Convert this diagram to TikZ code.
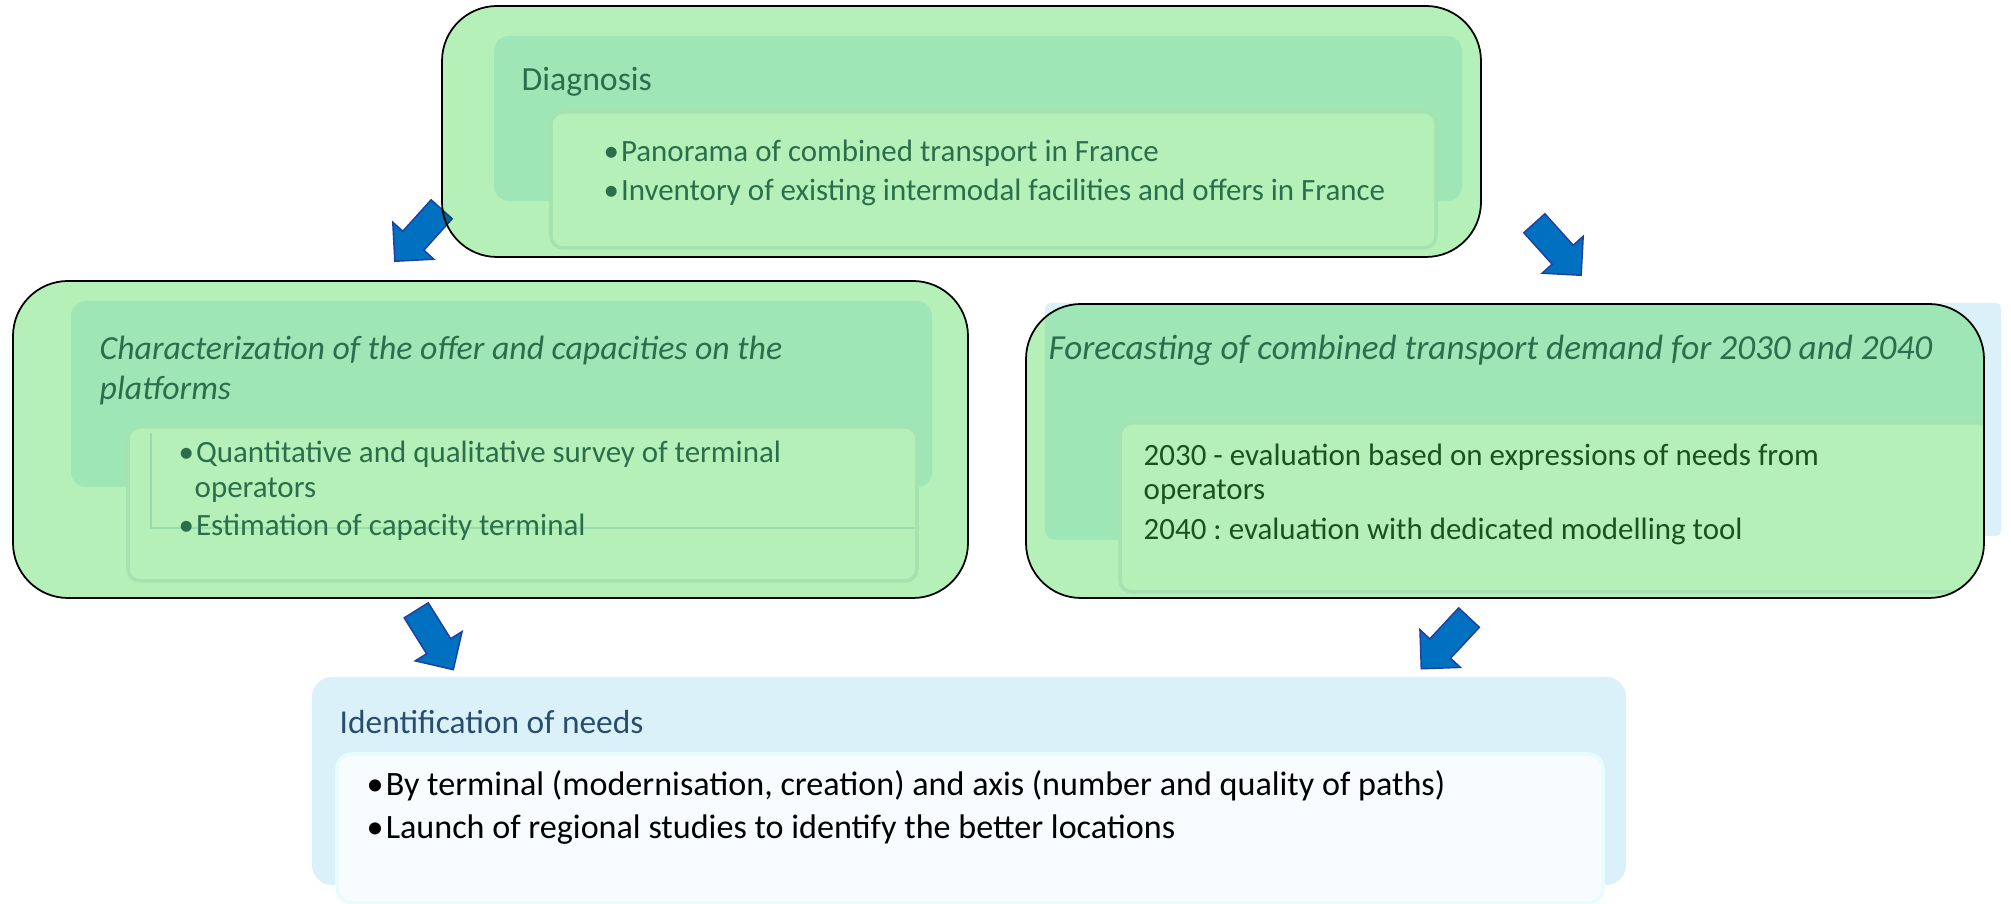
\documentclass[tikz,border=0pt]{standalone}
\usepackage{fontspec}
\setmainfont{Carlito}
\usetikzlibrary{shapes.arrows}
\definecolor{boxgreen}{HTML}{B5F0B8}
\definecolor{bandgreen}{HTML}{9FE6B6}
\definecolor{inneredge}{HTML}{A4E3B0}
\definecolor{textgreen}{HTML}{2B6E4B}
\definecolor{darkgreen}{HTML}{1B5220}
\definecolor{paleblue}{HTML}{DAF1FA}
\definecolor{whiteblue}{HTML}{F8FCFE}
\definecolor{titleblue}{HTML}{2A4D6E}
\definecolor{arrowfill}{HTML}{0070C0}
\definecolor{arrowedge}{HTML}{1F3F9F}
\tikzset{outerbox/.style = {fill=boxgreen, draw=black, line width=0.5pt, rounded corners=0.55cm}}
\tikzset{bandbox/.style = {fill=bandgreen, rounded corners=0.15cm}}
\tikzset{innerbox/.style = {fill=boxgreen, draw=inneredge, line width=1pt, rounded corners=0.12cm}}
\tikzset{blockarrow/.style = {single arrow, fill=arrowfill, draw=arrowedge, line width=0.4pt,
                              minimum height=0.7cm, single arrow head extend=0.135cm, inner sep=0.135cm}}
\tikzset{txt/.style = {anchor=base west, inner sep=0, text=textgreen, font=\fontsize{8.8}{10}\selectfont}}
\tikzset{headtxt/.style = {txt, font=\fontsize{9.6}{11}\selectfont}}
\tikzset{slanttxt/.style = {txt, font=\fontsize{9.6}{11}\itshape}}
\newcommand{\bul}{\makebox[0.56em][l]{\textbullet}}
\frenchspacing

\begin{document}
\begin{tikzpicture}[x=0.01cm, y=-0.01cm]
      \useasboundingbox (0,0) rectangle (2011,904);

      \node [blockarrow, rotate=-132] (arrowdiag) at (423,230) {};

      \begin{scope}[blend mode=multiply]
        \draw [outerbox] (442,6) rectangle (1481,257);
      \end{scope}
      \fill [bandbox] (494,36) rectangle (1462,201);
      \draw [innerbox] (551,112) rectangle (1436,248);
      \node [headtxt] (diag) at (521,91) {Diagnosis};
      \node [txt] (diag1) at (603,162) {\bul Panorama of combined transport in France};
      \node [txt] (diag2) at (603,201) {\bul Inventory of existing intermodal facilities and offers in France};

      \node [blockarrow, rotate=-48] (arrowfore) at (1553,244) {};

      % offer and capacities
      \draw [outerbox] (13,281) rectangle (968,598);
      \fill [bandbox] (71,301) rectangle (932,487);
      \draw [innerbox] (128,427) rectangle (917,581);
      \draw [inneredge!80!black!20!bandgreen, line width=0.8pt] (151,433) -- (151,528) -- (915,528);
      \node [slanttxt] (offer) at (99,360) {Characterization of the offer and capacities on the};
      \node [slanttxt] (offerb) at (99,400) {platforms};
      \node [txt] (offer1) at (178,463) {\bul Quantitative and qualitative survey of terminal};
      \node [txt] (offer1b) at (194,498) {operators};
      \node [txt] (offer2) at (178,536) {\bul Estimation of capacity terminal};

      % demand forecast
      \fill [paleblue, rounded corners=0.05cm] (1045,303) rectangle (2001,536);
      \begin{scope}
        \clip [rounded corners=0.55cm] (1026,304) rectangle (1984,598);
        \fill [boxgreen] (1026,304) rectangle (1984,598);
        \fill [bandgreen, rounded corners=0.1cm] (1045,300) rectangle (1990,540);
        \draw [innerbox] (1120,423) rectangle (1990,592);
      \end{scope}
      \draw [draw=black, line width=0.5pt, rounded corners=0.55cm] (1026,304) rectangle (1984,598);
      \node [slanttxt, font=\fontsize{10}{12}\itshape] (fore) at (1048,360) {Forecasting of combined transport demand for 2030 and 2040};
      \node [txt, text=darkgreen] (fore1) at (1143,466) {2030 - evaluation based on expressions of needs from};
      \node [txt, text=darkgreen] (fore1b) at (1143,500) {operators};
      \node [txt, text=darkgreen] (fore2) at (1143,540) {2040 : evaluation with dedicated modelling tool};

      \node [blockarrow, rotate=-58] (arrowoffer) at (431,634) {};
      \node [blockarrow, rotate=-133] (arrowneed) at (1450,638) {};

      % needs
      \fill [paleblue, rounded corners=0.2cm] (312,677) rectangle (1626,885);
      \filldraw [fill=whiteblue, draw=paleblue!80!cyan!30, line width=1pt, rounded corners=0.15cm] (337,754) rectangle (1603,903);
      \node [headtxt, text=titleblue, font=\fontsize{9.5}{11}\selectfont] (needs) at (339,734) {Identification of needs};
      \node [txt, text=black, font=\fontsize{9.7}{11}\selectfont] (needs1) at (366,796) {\bul By terminal (modernisation, creation) and axis (number and quality of paths)};
      \node [txt, text=black, font=\fontsize{9.7}{11}\selectfont] (needs2) at (366,839) {\bul Launch of regional studies to identify the better locations};
    \end{tikzpicture}
\end{document}
